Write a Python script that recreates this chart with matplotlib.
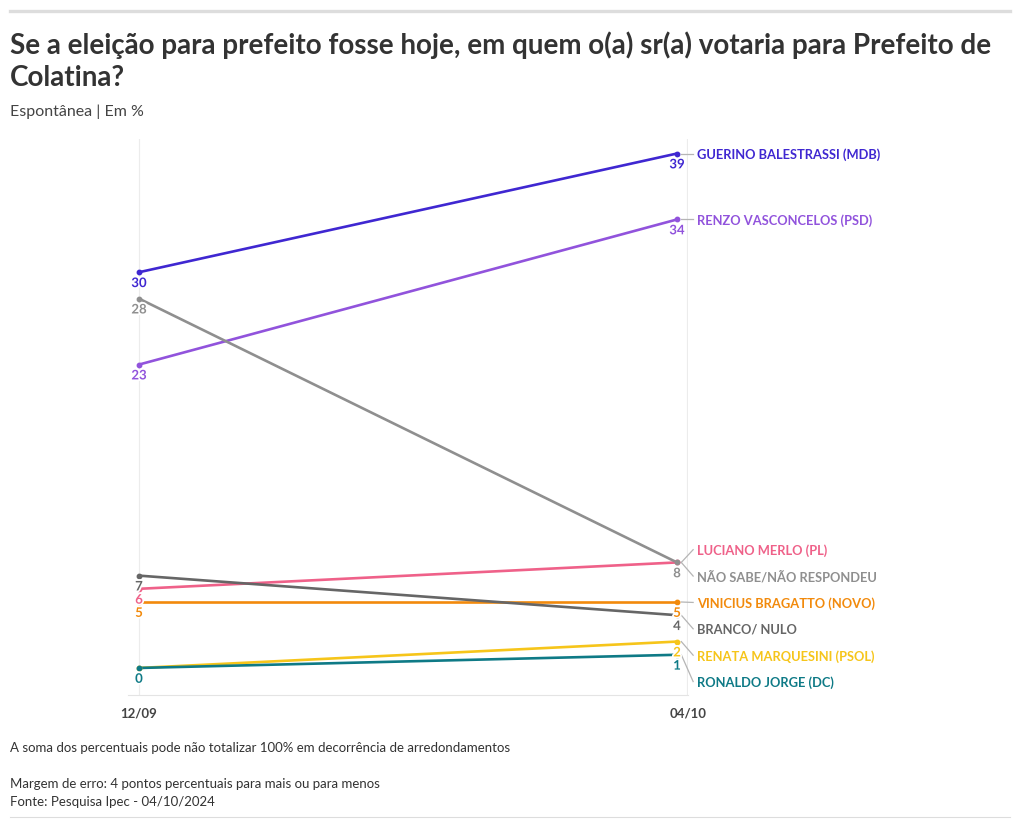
import matplotlib.pyplot as plt
import matplotlib.patheffects as pe
from matplotlib.lines import Line2D

plt.rcParams['font.family'] = ['Lato', 'DejaVu Sans']

datas = ['12/09', '04/10']
candidatos = ['GUERINO BALESTRASSI (MDB)', 'RENZO VASCONCELOS (PSD)', 'LUCIANO MERLO (PL)',
              'NÃO SABE/NÃO RESPONDEU', 'VINICIUS BRAGATTO (NOVO)', 'BRANCO/ NULO',
              'RENATA MARQUESINI (PSOL)', 'RONALDO JORGE (DC)']
valores_1209 = [30, 23, 6, 28, 5, 7, 0, 0]
valores_0410 = [39, 34, 8, 8, 5, 4, 2, 1]
cores = ['#3f27d1', '#9153dc', '#ef6189', '#8f8f8f', '#f28a0c', '#666666', '#f6c51a', '#0e7a86']
# rótulos numéricos escondidos por sobreposição
esconder_1209 = ['RENATA MARQUESINI (PSOL)']
esconder_0410 = ['LUCIANO MERLO (PL)']

W, H = 1020, 829
fig = plt.figure(figsize=(W / 100, H / 100), dpi=100)

# eixo: x=0 em 139px, x=1 em 677px ; y de 140 a 696 px
ax_l, ax_r, ax_t, ax_b = 128, 688, 140, 696
ax = fig.add_axes([ax_l / W, 1 - ax_b / H, (ax_r - ax_l) / W, (ax_b - ax_t) / H])
x0px, x1px = 139, 677
xmin = -(x0px - ax_l) / (x1px - x0px)
xmax = 1 + (ax_r - x1px) / (x1px - x0px)
ax.set_xlim(xmin, xmax)
ax.set_ylim(-2.05, 40.1)

for s in ['top', 'right', 'left']:
    ax.spines[s].set_visible(False)
ax.spines['bottom'].set_color('#e4e4e4')
ax.set_yticks([])
ax.axvline(0, color='#ececec', lw=0.8, zorder=0)
ax.axvline(xmax - 0.001, color='#ececec', lw=0.8, zorder=0)
ax.set_xticks([0, xmax])
ax.set_xticklabels(datas, fontsize=9.5, fontweight='bold', color='#444444')
ax.tick_params(axis='x', length=0, pad=8)

halo = [pe.withStroke(linewidth=2.5, foreground='white')]
xs = [0, 1]
for nome, a, b, c in zip(candidatos, valores_1209, valores_0410, cores):
    ax.plot(xs, [a, b], color=c, lw=1.9, solid_capstyle='round', zorder=3, clip_on=False)
    ax.plot(xs, [a, b], 'o', color=c, ms=3.2, zorder=4, clip_on=False)
    if nome not in esconder_1209:
        ax.annotate(str(a), (0, a), xytext=(0, -3.5), textcoords='offset points',
                    ha='center', va='top', fontsize=9.5, fontweight='bold', color=c,
                    zorder=6, path_effects=halo)
    if nome not in esconder_0410:
        ax.annotate(str(b), (1, b), xytext=(0, -3.5), textcoords='offset points',
                    ha='center', va='top', fontsize=9.5, fontweight='bold', color=c,
                    zorder=6, path_effects=halo)

# posições dos nomes: afastar rótulos que se sobrepõem (espaço mínimo de 2 pontos)
ordem = sorted(range(len(candidatos)), key=lambda i: (-valores_0410[i], i))
pos = {i: float(valores_0410[i]) for i in ordem}
gap = 2.0
for _ in range(200):
    mudou = False
    for k in range(len(ordem) - 1):
        i, j = ordem[k], ordem[k + 1]
        d = pos[i] - pos[j]
        if d < gap - 1e-6:
            m = (gap - d) / 2
            pos[i] += m
            pos[j] -= m
            mudou = True
    if not mudou:
        break
for i in ordem:
    if abs(pos[i] - valores_0410[i]) > 1e-6:
        pos[i] -= 0.7

for i in ordem:
    c = cores[i]
    ax.add_line(Line2D([1 + 0.008, 1 + 0.030], [valores_0410[i], pos[i]], color='#b5b5b5',
                       lw=0.9, clip_on=False))
    ax.text(1 + 0.037, pos[i], candidatos[i], ha='left', va='center', fontsize=9.3,
            fontweight='bold', color=c)

# título e textos
fig.add_artist(Line2D([10 / W, 1010 / W], [1 - 12 / H, 1 - 12 / H], color='#dddddd', lw=2.4))
fig.text(10 / W, 1 - 45 / H, 'Se a eleição para prefeito fosse hoje, em quem o(a) sr(a) votaria para Prefeito de',
         fontsize=20, fontweight='bold', color='#333333', va='center')
fig.text(10 / W, 1 - 78 / H, 'Colatina?', fontsize=20, fontweight='bold', color='#333333', va='center')
fig.text(10 / W, 1 - 112 / H, 'Espontânea | Em %', fontsize=11.5, color='#444444', va='center')

fig.text(10 / W, 1 - 748 / H, 'A soma dos percentuais pode não totalizar 100% em decorrência de arredondamentos',
         fontsize=9.5, color='#333333', va='center')
fig.text(10 / W, 1 - 784 / H, 'Margem de erro: 4 pontos percentuais para mais ou para menos',
         fontsize=9.5, color='#333333', va='center')
fig.text(10 / W, 1 - 802 / H, 'Fonte: Pesquisa Ipec - 04/10/2024', fontsize=9.5, color='#333333', va='center')
fig.add_artist(Line2D([10 / W, 1010 / W], [1 - 818 / H, 1 - 818 / H], color='#dddddd', lw=0.8))

plt.savefig('out.png', dpi=100)
